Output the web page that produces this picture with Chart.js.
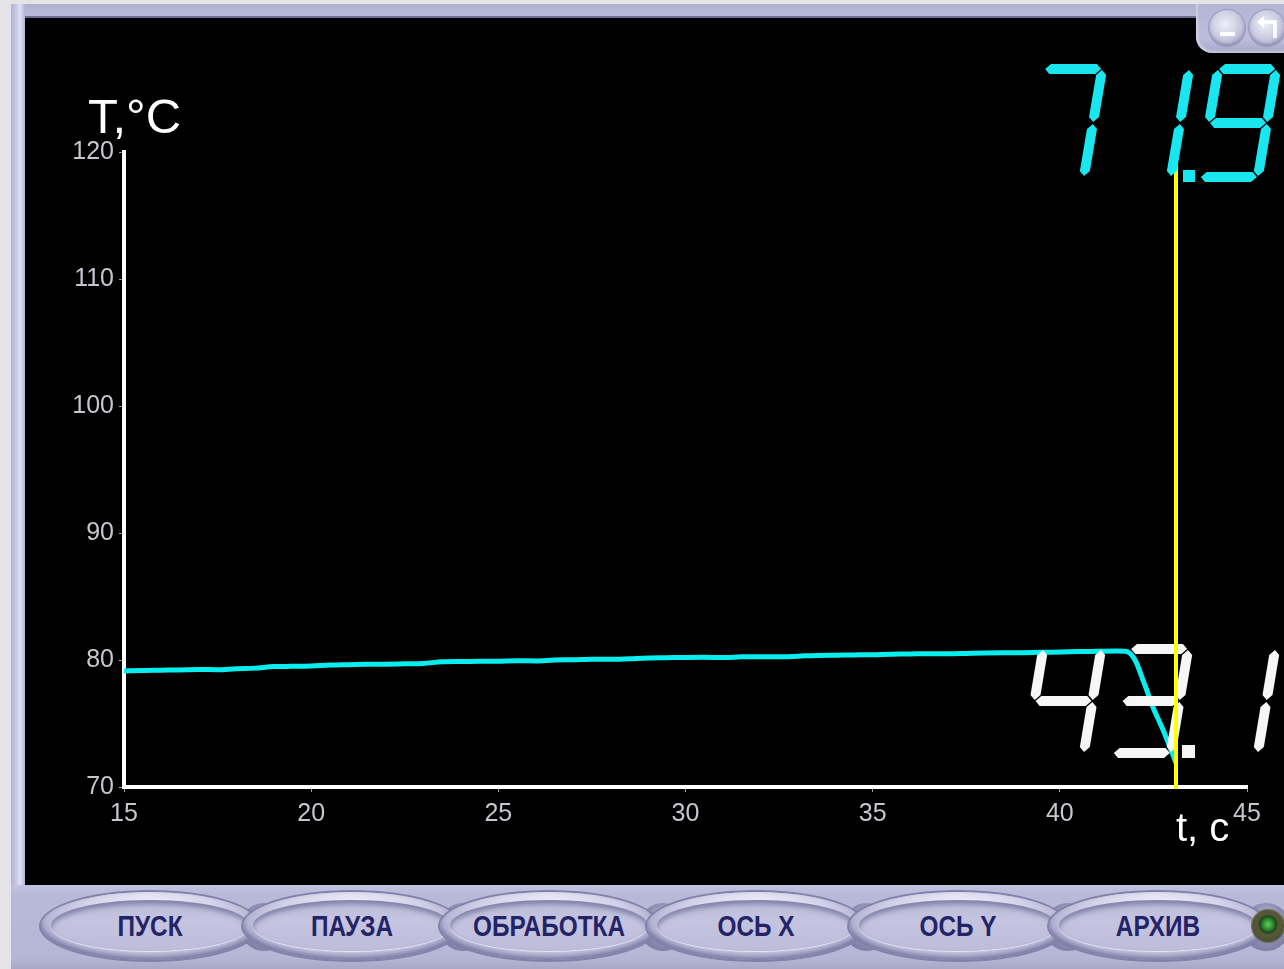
<!DOCTYPE html>
<html lang="ru">
<head>
<meta charset="utf-8">
<title>Температура</title>
<script src="https://cdn.jsdelivr.net/npm/chart.js@4.4.1/dist/chart.umd.min.js"></script>
<style>
  html, body { margin: 0; padding: 0; }
  body {
    width: 1284px; height: 969px; overflow: hidden; position: relative;
    background: #e4e4e6;
    font-family: "Liberation Sans", Arial, sans-serif;
  }
  #frame {
    position: absolute; left: 11px; top: 4px; width: 1273px; height: 965px;
    background: linear-gradient(180deg, #b0b0d0 0px, #b8b8d8 10px, #b6b6d6 100%);
  }
  #frame-left {
    position: absolute; left: 11px; top: 4px; width: 14px; height: 881px;
    background: linear-gradient(90deg, #b2b2d2 0%, #c6c6e4 35%, #e0e0f4 65%, #b4b4d4 100%);
  }
  #panel {
    position: absolute; left: 25px; top: 16px; width: 1259px; height: 869px;
    background: #000;
    box-shadow: inset 0 2px 0 #6e6e92;
  }
  #chart { position: absolute; left: 0; top: 0; }
  #tab {
    position: absolute; left: 1196px; top: 4px; width: 88px; height: 49px;
    background: linear-gradient(180deg, #b4b4d4 0%, #bcbcdc 70%, #a8a8ca 100%);
    border-bottom-left-radius: 16px;
    box-shadow: inset 2px -2px 2px rgba(255,255,255,0.35);
  }
  .round {
    position: absolute; top: 6px; width: 36px; height: 36px; border-radius: 50%;
    background: radial-gradient(circle at 45% 40%, #eeeef8 0%, #d2d2e6 40%, #a8a8c8 85%, #9494b6 100%);
    box-shadow: 0 0 0 1px #9898ba, inset 0 -2px 3px rgba(70,70,110,0.35);
  }
  .round svg { position: absolute; left: 0; top: 0; }
  #bar {
    position: absolute; left: 11px; top: 885px; width: 1273px; height: 84px;
    background: linear-gradient(180deg, #c2c2e0 0px, #b8b8d8 10px, #b6b6d6 72px, #a8a8c6 84px);
  }
  .joint {
    position: absolute; top: 18px; width: 48px; height: 48px; border-radius: 50%;
    background: radial-gradient(ellipse at 50% 40%, #c4c4de 0%, #8c8cb2 50%, #6e6e96 100%);
  }
  .btn {
    position: absolute; top: 7px; width: 218px; height: 68px; border-radius: 50%;
    background: radial-gradient(ellipse at 50% 25%, #f0f0fa 0%, #d0d0e8 45%, #a0a0c6 90%, #8e8eb6 100%);
    box-shadow: 0 0 0 2px #8080a8, inset 0 -3px 5px rgba(60,60,110,0.5);
  }
  .btn::before {
    content: ""; position: absolute; left: 10px; right: 10px; top: 8px; bottom: 9px;
    border-radius: 50%;
    background: linear-gradient(180deg, #bcbcda 0%, #c4c4e0 40%, #bdbddb 100%);
    box-shadow: inset 0 4px 5px rgba(70,70,120,0.5), 0 1px 1px rgba(255,255,255,0.7);
  }
  .btn span {
    position: absolute; left: 0; right: 0; top: 18px; text-align: center;
    font: bold 29px "Liberation Sans", Arial, sans-serif; color: #232366;
    transform: scaleX(0.84);
  }
  #led {
    position: absolute; left: 1241px; top: 25px; width: 32px; height: 32px; border-radius: 50%;
    background: radial-gradient(circle at 50% 45%, #5fd05f 0%, #2e8a2e 22%, #1f4a1f 34%, #5a5a3a 46%, #4a4a30 80%, #3a3a26 100%);
    box-shadow: 0 0 0 1px #6a6a50;
  }
</style>
</head>
<body>
<div id="frame"></div>
<div id="frame-left"></div>
<div id="panel"><canvas id="chart" width="1259" height="869"></canvas></div>
<div id="tab">
  <div class="round" style="left:13px;">
    <svg width="36" height="36" viewBox="0 0 36 36"><rect x="11" y="22" width="15" height="4" rx="1" fill="#ffffff"/></svg>
  </div>
  <div class="round" style="left:53px;">
    <svg width="36" height="36" viewBox="0 0 36 36">
      <path d="M26 28 V12 H13" stroke="#ffffff" stroke-width="3.5" fill="none"/>
      <path d="M8 12 L15 6 L15 18 Z" fill="#ffffff"/>
    </svg>
  </div>
</div>
<div id="bar">
  <div class="joint" style="left:229px;"></div>
  <div class="joint" style="left:428px;"></div>
  <div class="joint" style="left:628px;"></div>
  <div class="joint" style="left:832px;"></div>
  <div class="joint" style="left:1033px;"></div>
  <div class="joint" style="left:1231px;"></div>
  <div class="btn" style="left:30px;"><span>ПУСК</span></div>
  <div class="btn" style="left:232px;"><span>ПАУЗА</span></div>
  <div class="btn" style="left:429px;"><span>ОБРАБОТКА</span></div>
  <div class="btn" style="left:636px;"><span>ОСЬ X</span></div>
  <div class="btn" style="left:838px;"><span>ОСЬ Y</span></div>
  <div class="btn" style="left:1038px;"><span>АРХИВ</span></div>
  <div id="led"></div>
</div>

<script>
// Recorded temperature trace: time (s) and temperature (°C)
const timeSec = [
  15, 15.5, 16, 16.5, 17, 17.5, 18, 18.5, 19, 19.5,
  20, 20.5, 21, 21.5, 22, 22.5, 23, 23.5, 24, 24.5,
  25, 25.5, 26, 26.5, 27, 27.5, 28, 28.5, 29, 29.5,
  30, 30.5, 31, 31.5, 32, 32.5, 33, 33.5, 34, 34.5,
  35, 35.5, 36, 36.5, 37, 37.5, 38, 38.5, 39, 39.5,
  40, 40.5, 41, 41.5, 41.75, 42, 42.25, 42.5, 42.75, 43, 43.1
];
const tempC = [
  79.14, 79.18, 79.20, 79.22, 79.25, 79.24, 79.31, 79.36, 79.48, 79.50,
  79.53, 79.60, 79.63, 79.66, 79.67, 79.70, 79.73, 79.86, 79.88, 79.90,
  79.91, 79.95, 79.93, 80.00, 80.02, 80.06, 80.05, 80.10, 80.16, 80.18,
  80.20, 80.21, 80.20, 80.25, 80.26, 80.25, 80.30, 80.36, 80.38, 80.40,
  80.42, 80.46, 80.47, 80.50, 80.49, 80.52, 80.55, 80.57, 80.58, 80.61,
  80.63, 80.66, 80.68, 80.70, 80.68, 80.05, 78.20, 76.20, 74.55, 72.70, 71.9
];
const xTicks = [15, 20, 25, 30, 35, 40, 45];
const yTicks = [70, 80, 90, 100, 110, 120];
const cursorTime = 43.1;
const currentTemp = tempC[tempC.length - 1];

const FONT = '"Liberation Sans", Arial, sans-serif';
Chart.defaults.font.family = FONT;

// Seven-segment readout
const SEG = {
  '0': 'abcdef', '1': 'bc', '2': 'abdeg', '3': 'abcdg', '4': 'bcfg',
  '5': 'acdfg', '6': 'acdefg', '7': 'abc', '8': 'abcdefg', '9': 'abcdfg'
};
function drawSevenSeg(ctx, text, right, top, o) {
  const { w, h, t, s, pitch, color, dotSize, dotGap } = o;
  const n = text.replace('.', '').length;
  const g = 1, ht = t / 2;
  const L = ht, R = w - ht, T = ht, M = h / 2, B = h - ht;
  const hSeg = (vc, u1, u2) => [[u1 + g, vc], [u1 + g + ht, vc - ht], [u2 - g - ht, vc - ht],
                                [u2 - g, vc], [u2 - g - ht, vc + ht], [u1 + g + ht, vc + ht]];
  const vSeg = (uc, v1, v2) => [[uc, v1 + g], [uc + ht, v1 + g + ht], [uc + ht, v2 - g - ht],
                                [uc, v2 - g], [uc - ht, v2 - g - ht], [uc - ht, v1 + g + ht]];
  const shapes = {
    a: hSeg(T, L, R), b: vSeg(R, T, M), c: vSeg(R, M, B), d: hSeg(B, L, R),
    e: vSeg(L, M, B), f: vSeg(L, T, M), g: hSeg(M, L, R)
  };
  ctx.save();
  ctx.fillStyle = color;
  let k = -1;
  for (const ch of text) {
    if (ch === '.') {
      const px0 = right - w - (n - 1 - k) * pitch;
      ctx.fillRect(px0 + w - s + dotGap, top + h - dotSize, dotSize, dotSize);
      continue;
    }
    k++;
    const x0 = right - w - (n - 1 - k) * pitch;
    ctx.save();
    ctx.translate(x0, top);
    ctx.transform(1, 0, -s / h, 1, 0, 0);
    for (const id of SEG[ch] || '') {
      const p = shapes[id];
      ctx.beginPath();
      ctx.moveTo(p[0][0], p[0][1]);
      for (let i = 1; i < p.length; i++) ctx.lineTo(p[i][0], p[i][1]);
      ctx.closePath();
      ctx.fill();
    }
    ctx.restore();
  }
  ctx.restore();
}

const overlay = {
  id: 'overlay',
  afterDatasetsDraw(chart) {
    const { ctx, chartArea, scales } = chart;
    // time readout
    drawSevenSeg(ctx, cursorTime.toFixed(1), 1256, 628, {
      w: 68, h: 114, t: 10, s: 19, pitch: 87, color: '#f6f6f6', dotSize: 13, dotGap: 7
    });
    // cursor line
    const cx = Math.round(scales.x.getPixelForValue(cursorTime));
    ctx.save();
    ctx.strokeStyle = '#ffff00';
    ctx.lineWidth = 4;
    ctx.beginPath();
    ctx.moveTo(cx, chartArea.top);
    ctx.lineTo(cx, chartArea.bottom + 2);
    ctx.stroke();
    ctx.restore();
    // temperature readout
    drawSevenSeg(ctx, currentTemp.toFixed(1), 1257, 48, {
      w: 68, h: 118, t: 10, s: 20, pitch: 87, color: '#1ae6f0', dotSize: 12, dotGap: 8
    });
    // axis titles
    ctx.save();
    ctx.fillStyle = '#ffffff';
    ctx.textBaseline = 'alphabetic';
    ctx.textAlign = 'left';
    ctx.font = '49px ' + FONT;
    ctx.fillText('T,°C', 63, 117);
    ctx.font = '40px ' + FONT;
    ctx.fillText('t, c', 1151, 825);
    ctx.restore();
  }
};

new Chart(document.getElementById('chart'), {
  type: 'line',
  data: {
    datasets: [{
      data: timeSec.map((t, i) => ({ x: t, y: tempC[i] })),
      borderColor: '#08eeee',
      borderWidth: 5,
      pointRadius: 0,
      cubicInterpolationMode: 'monotone',
      fill: false
    }]
  },
  options: {
    responsive: false,
    animation: false,
    devicePixelRatio: 1,
    layout: { padding: { top: 136, right: 37, left: 0, bottom: 0 } },
    plugins: { legend: { display: false }, tooltip: { enabled: false } },
    scales: {
      x: {
        type: 'linear', min: 15, max: 45,
        afterBuildTicks: s => { s.ticks = xTicks.map(v => ({ value: v })); },
        afterFit: s => { s.height = 98; },
        ticks: { color: '#c6c6ce', font: { size: 25 }, padding: 7, maxRotation: 0, autoSkip: false },
        grid: { drawOnChartArea: false, drawTicks: true, tickLength: 5, color: '#9a9aa2', lineWidth: 1 },
        border: { display: true, color: '#ffffff', width: 4 }
      },
      y: {
        type: 'linear', min: 70, max: 120,
        afterBuildTicks: s => { s.ticks = yTicks.map(v => ({ value: v })); },
        afterFit: s => { s.width = 99; },
        ticks: { color: '#c6c6ce', font: { size: 25 }, padding: 5, autoSkip: false },
        grid: { drawOnChartArea: false, drawTicks: true, tickLength: 5, color: '#9a9aa2', lineWidth: 1 },
        border: { display: true, color: '#ffffff', width: 4 }
      }
    }
  },
  plugins: [overlay]
});
</script>
</body>
</html>
